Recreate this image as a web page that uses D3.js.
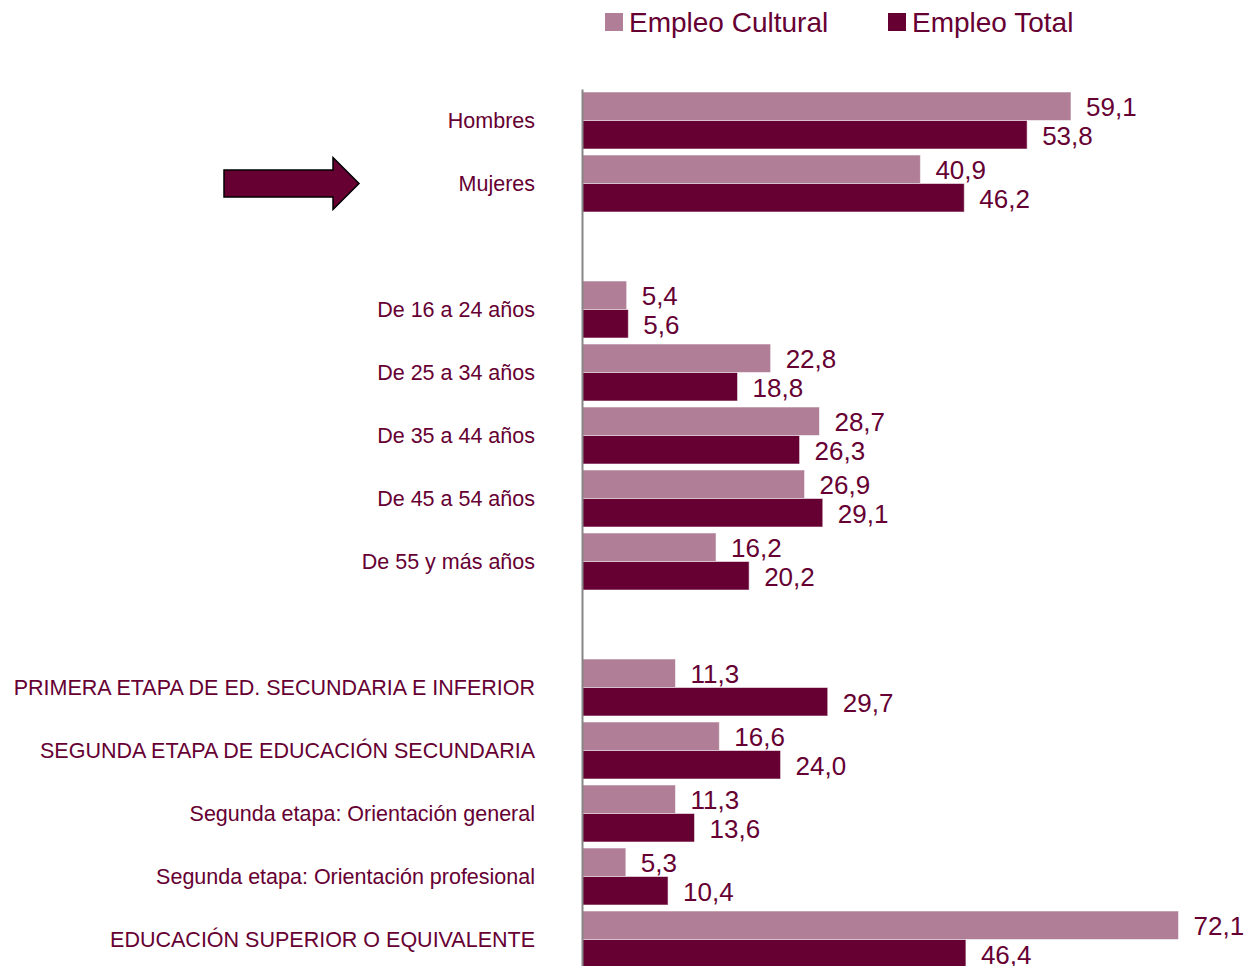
<!DOCTYPE html>
<html>
<head>
<meta charset="utf-8">
<script src="https://cdn.jsdelivr.net/npm/d3@7"></script>
<style>
  html, body { margin: 0; padding: 0; background: #ffffff; }
  svg { display: block; font-family: "Liberation Sans", Arial, sans-serif; }
</style>
</head>
<body>
<svg id="chart" width="1245" height="966"></svg>
<script>
const categories = [
  "Hombres", "Mujeres", "",
  "De 16 a 24 años", "De 25 a 34 años", "De 35 a 44 años", "De 45 a 54 años", "De 55 y más años", "",
  "PRIMERA ETAPA DE ED. SECUNDARIA E INFERIOR",
  "SEGUNDA ETAPA DE EDUCACIÓN SECUNDARIA",
  "Segunda etapa: Orientación general",
  "Segunda etapa: Orientación profesional",
  "EDUCACIÓN SUPERIOR O EQUIVALENTE"
];
const seriesNames = ["Empleo Cultural", "Empleo Total"];
const empleoCultural = [59.1, 40.9, null, 5.4, 22.8, 28.7, 26.9, 16.2, null, 11.3, 16.6, 11.3, 5.3, 72.1];
const empleoTotal    = [53.8, 46.2, null, 5.6, 18.8, 26.3, 29.1, 20.2, null, 29.7, 24.0, 13.6, 10.4, 46.4];
const highlighted = "Mujeres";

const colors = ["#b07e96", "#660033"];
const textColor = "#660033";

const svg = d3.select("#chart");
const axisX = 582;

const x = d3.scaleLinear().domain([0, 100]).range([axisX, axisX + 827.4]);
const y = d3.scaleBand().domain(d3.range(categories.length)).range([89, 971]).paddingInner(6 / 63).paddingOuter(3 / 63);
const ySub = d3.scaleBand().domain([0, 1]).range([0, y.bandwidth()]).padding(0);

const locale = d3.formatLocale({ decimal: ",", thousands: ".", grouping: [3], currency: ["", "€"] });
const fmt = locale.format(".1f");

const series = [empleoCultural, empleoTotal];

// bars
series.forEach((vals, s) => {
  const rows = vals.map((v, i) => ({ v, i })).filter(d => d.v != null);
  const g = svg.append("g");
  g.selectAll("rect").data(rows).join("rect")
    .attr("x", x(0))
    .attr("y", d => y(d.i) + ySub(s))
    .attr("width", d => x(d.v) - x(0))
    .attr("height", ySub.bandwidth())
    .attr("fill", colors[s])
    .attr("stroke", "#ffffff")
    .attr("stroke-opacity", 0.55)
    .attr("stroke-width", 1);
  g.selectAll("text").data(rows).join("text")
    .attr("x", d => x(d.v) + 15)
    .attr("y", d => y(d.i) + ySub(s) + ySub.bandwidth() / 2 + 10)
    .attr("fill", textColor)
    .attr("font-size", 26)
    .text(d => fmt(d.v));
});

// category axis
const axis = d3.axisLeft(y).tickSize(0).tickPadding(47).tickFormat(i => categories[i]);
const ag = svg.append("g").attr("transform", `translate(${axisX},0)`).call(axis);
ag.select(".domain").attr("stroke", "#868686").attr("stroke-width", 2);
ag.selectAll(".tick text")
  .attr("fill", textColor)
  .attr("font-size", 21.5)
  .attr("font-family", "'Liberation Sans', Arial, sans-serif")
  .attr("dy", "0.35em");

// arrow pointing at highlighted category
const hi = categories.indexOf(highlighted);
const cy = y(hi) + y.bandwidth() / 2;
const ax0 = 224, ax1 = 333, ax2 = 359;
svg.append("path")
  .attr("d", `M${ax0},${cy - 13.5} L${ax1},${cy - 13.5} L${ax1},${cy - 26} L${ax2},${cy} L${ax1},${cy + 26} L${ax1},${cy + 13.5} L${ax0},${cy + 13.5} Z`)
  .attr("fill", textColor)
  .attr("stroke", "#000000")
  .attr("stroke-width", 1.5);

// legend
const legendX = [605, 888];
const lg = svg.append("g");
seriesNames.forEach((name, s) => {
  lg.append("rect").attr("x", legendX[s]).attr("y", 13).attr("width", 18).attr("height", 18).attr("fill", colors[s]);
  lg.append("text").attr("x", legendX[s] + 24).attr("y", 32)
    .attr("fill", textColor).attr("font-size", 28).text(name);
});
</script>
</body>
</html>
